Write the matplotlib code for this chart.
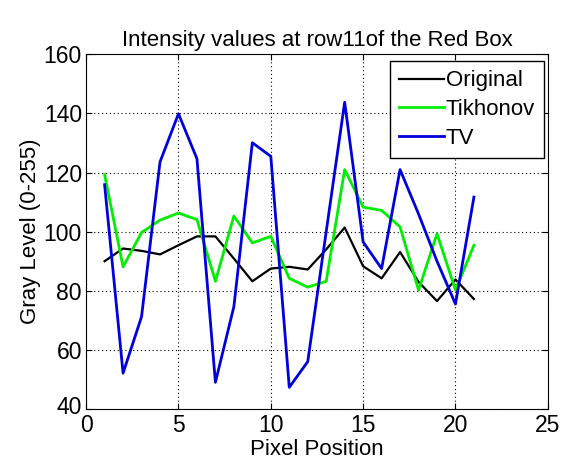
import matplotlib
matplotlib.use("Agg")
import matplotlib.pyplot as plt
import matplotlib.transforms as mtransforms

# pixel positions along row 11
pixels = list(range(1, 22))

# gray levels
original = [90, 94.3, 93.5, 92.3, 95.4, 98.4, 98.4, 90.9, 83.2, 87.5, 88.1,
            87.2, 94, 101.4, 88.3, 84.2, 93.1, 83, 76.5, 83.8, 77.2]
tikhonov = [119.3, 88.1, 99.7, 103.9, 106.3, 104.1, 83.2, 105.3, 96.2, 98.4, 84.2,
            81.2, 83.2, 121, 108.3, 107.2, 101.6, 80.2, 99.3, 80.2, 95.4]
tv = [115.9, 52.1, 71.2, 123.6, 139.9, 124.7, 49, 74.6, 130.1, 125.5, 47.3,
      56, 100, 143.8, 96.5, 87.5, 121, 106, 90, 75.5, 111.7]

plt.rcParams['font.family'] = ['Liberation Sans', 'DejaVu Sans']

fig = plt.figure(figsize=(5.63, 4.61), dpi=100)
ax = fig.add_axes([0.153, 0.113, 0.820, 0.769])

ax.plot(pixels, original, color='black', lw=1.6, label='Original')
ax.plot(pixels, tikhonov, color='#00ee00', lw=2, label='Tikhonov')
ax.plot(pixels, tv, color='#0000dd', lw=2, label='TV')

ax.set_xlim(0, 25)
ax.set_ylim(40, 160)
ax.set_xticks([0, 5, 10, 15, 20, 25])
ax.set_yticks([40, 60, 80, 100, 120, 140, 160])
ax.tick_params(direction='in', top=True, right=True, labelsize=16.5, length=4)
ax.tick_params(axis='x', pad=4)
ax.tick_params(axis='y', pad=3)
# lift the bottom y label a few pixels so it clears the x "0"
lbl = ax.get_yticklabels()[0]
lbl.set_transform(lbl.get_transform() +
                  mtransforms.ScaledTranslation(0, 4 / 100, fig.dpi_scale_trans))
ax.grid(True, color='black', linestyle=(0, (1, 2.5)), lw=0.8)

ax.set_title('Intensity values at row11of the Red Box', fontsize=16, pad=6)
ax.set_xlabel('Pixel Position', fontsize=16, labelpad=1)
ax.set_ylabel('Gray Level (0-255)', fontsize=16, labelpad=2)

leg = ax.legend(loc='upper right', bbox_to_anchor=(0.992, 0.98), fontsize=16,
                fancybox=False, framealpha=1, edgecolor='black',
                handlelength=2.0, borderaxespad=0, borderpad=0.4,
                labelspacing=0.35, handletextpad=0.1)
leg.get_frame().set_linewidth(1)

fig.savefig('out.png', dpi=100)
